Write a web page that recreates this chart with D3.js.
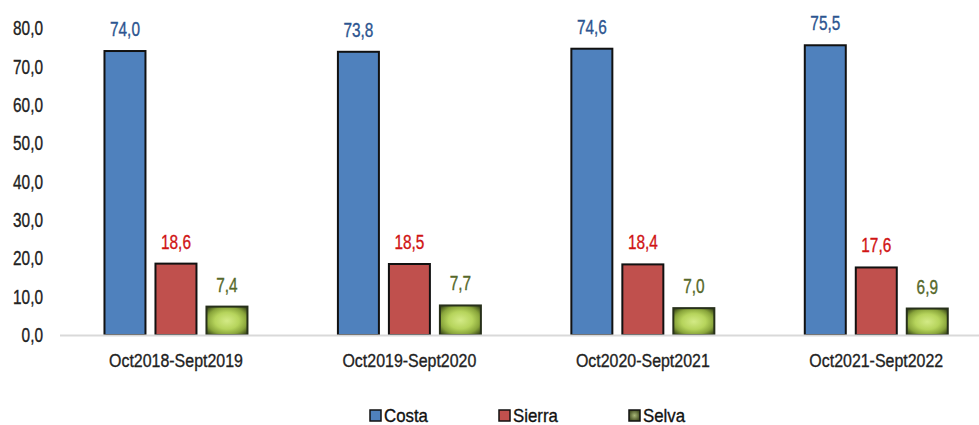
<!DOCTYPE html>
<html>
<head>
<meta charset="utf-8">
<script src="https://cdn.jsdelivr.net/npm/d3@7"></script>
<style>
  body { margin: 0; background: #fff; }
  text { font-family: "Liberation Sans", Arial, sans-serif; stroke-width: 0.35px; }
</style>
</head>
<body>
<div id="chart-area"></div>
<script>
let categories = ["Oct2018-Sept2019", "Oct2019-Sept2020", "Oct2020-Sept2021", "Oct2021-Sept2022"]
let seriesNames = ["Costa", "Sierra", "Selva"]
let costa = [74.0, 73.8, 74.6, 75.5]
let sierra = [18.6, 18.5, 18.4, 17.6]
let selva = [7.4, 7.7, 7.0, 6.9]
let yTicks = [0, 10, 20, 30, 40, 50, 60, 70, 80]

let values = {Costa: costa, Sierra: sierra, Selva: selva}
let fills = {Costa: "#4f81bd", Sierra: "#c0504d", Selva: "url(#selvaFill)"}
let labelColors = {Costa: "#2c5590", Sierra: "#d01414", Selva: "#56682a"}

let width = 979, height = 425

let svg = d3.select("#chart-area").append("svg")
  .attr("width", width)
  .attr("height", height)

// no narrow font installed, so squeeze Liberation Sans horizontally
function place(sel, fx, fy, sx) {
  sel.attr("transform", (d, i) => "translate(" + fx(d, i) + "," + fy(d, i) + ") scale(" + sx + ",1)")
}

// green bar: light centre, dark edges
let defs = svg.append("defs")
let grad = defs.append("radialGradient").attr("id", "selvaFill")
  .attr("cx", "50%").attr("cy", "50%").attr("r", "65%")
grad.append("stop").attr("offset", "0%").attr("stop-color", "#d3ea86")
grad.append("stop").attr("offset", "45%").attr("stop-color", "#b6d45c")
grad.append("stop").attr("offset", "75%").attr("stop-color", "#88a43a")
grad.append("stop").attr("offset", "100%").attr("stop-color", "#3c4a1a")

let legGrad = defs.append("radialGradient").attr("id", "selvaLeg")
legGrad.append("stop").attr("offset", "0%").attr("stop-color", "#a9b878")
legGrad.append("stop").attr("offset", "100%").attr("stop-color", "#4a5628")

let x = d3.scaleBand()
  .domain(categories)
  .range([59.25, 993])

let x1 = d3.scaleBand()
  .domain(seriesNames)
  .range([0, x.bandwidth()])
  .paddingInner(0.196)
  .paddingOuter(0.887)

let y = d3.scaleLinear()
  .domain([0, 80])
  .range([335, 28])

let fmt = v => d3.format(".1f")(v).replace(".", ",")

// y tick labels (no axis line)
svg.append("g").selectAll("text")
  .data(yTicks)
  .enter().append("text")
    .attr("dy", "0.36em")
    .attr("text-anchor", "end")
    .attr("font-size", "20px")
    .attr("fill", "#222")
    .attr("stroke", "#222")
    .text(d => fmt(d))
    .call(place, d => 43, d => y(d), 0.77)

// bars
let groups = svg.append("g").selectAll("g")
  .data(categories)
  .enter().append("g")
    .attr("transform", d => "translate(" + x(d) + ",0)")

groups.selectAll("rect")
  .data((c, i) => seriesNames.map(s => ({s: s, v: values[s][i]})))
  .enter().append("rect")
    .attr("x", d => x1(d.s))
    .attr("y", d => y(d.v))
    .attr("width", x1.bandwidth())
    .attr("height", d => y(0) - y(d.v))
    .attr("fill", d => fills[d.s])
    .attr("stroke", d => d.s == "Selva" ? "#27301a" : "#111")
    .attr("stroke-width", 2)

groups.selectAll("text.val")
  .data((c, i) => seriesNames.map(s => ({s: s, v: values[s][i]})))
  .enter().append("text")
    .attr("class", "val")
    .attr("text-anchor", "middle")
    .attr("font-size", "20px")
    .attr("fill", d => labelColors[d.s])
    .attr("stroke", d => labelColors[d.s])
    .text(d => fmt(d.v))
    .call(place, d => x1(d.s) + x1.bandwidth() / 2, d => y(d.v) - 15, 0.77)

// x axis line
svg.append("line")
  .attr("x1", 60).attr("x2", 979)
  .attr("y1", y(0) + 0.5).attr("y2", y(0) + 0.5)
  .attr("stroke", "#d9d9d9")
  .attr("stroke-width", 2)

// category labels
svg.append("g").selectAll("text")
  .data(categories)
  .enter().append("text")
    .attr("text-anchor", "middle")
    .attr("font-size", "19px")
    .attr("fill", "#222")
    .attr("stroke", "#222")
    .text(d => d)
    .call(place, d => x(d) + x.bandwidth() / 2, d => 367, 0.84)

// legend
let legendX = [370, 499, 629]
let legend = svg.append("g").selectAll("g")
  .data(seriesNames)
  .enter().append("g")
    .attr("transform", (d, i) => "translate(" + legendX[i] + ",410)")

legend.append("rect")
  .attr("width", 11).attr("height", 11)
  .attr("fill", d => d == "Selva" ? "url(#selvaLeg)" : fills[d])
  .attr("stroke", "#111")
  .attr("stroke-width", 1.5)

legend.append("text")
  .attr("font-size", "19px")
  .attr("fill", "#111")
  .attr("stroke", "#111")
  .text(d => d)
  .call(place, d => 14, d => 12, 0.887)
</script>
</body>
</html>
